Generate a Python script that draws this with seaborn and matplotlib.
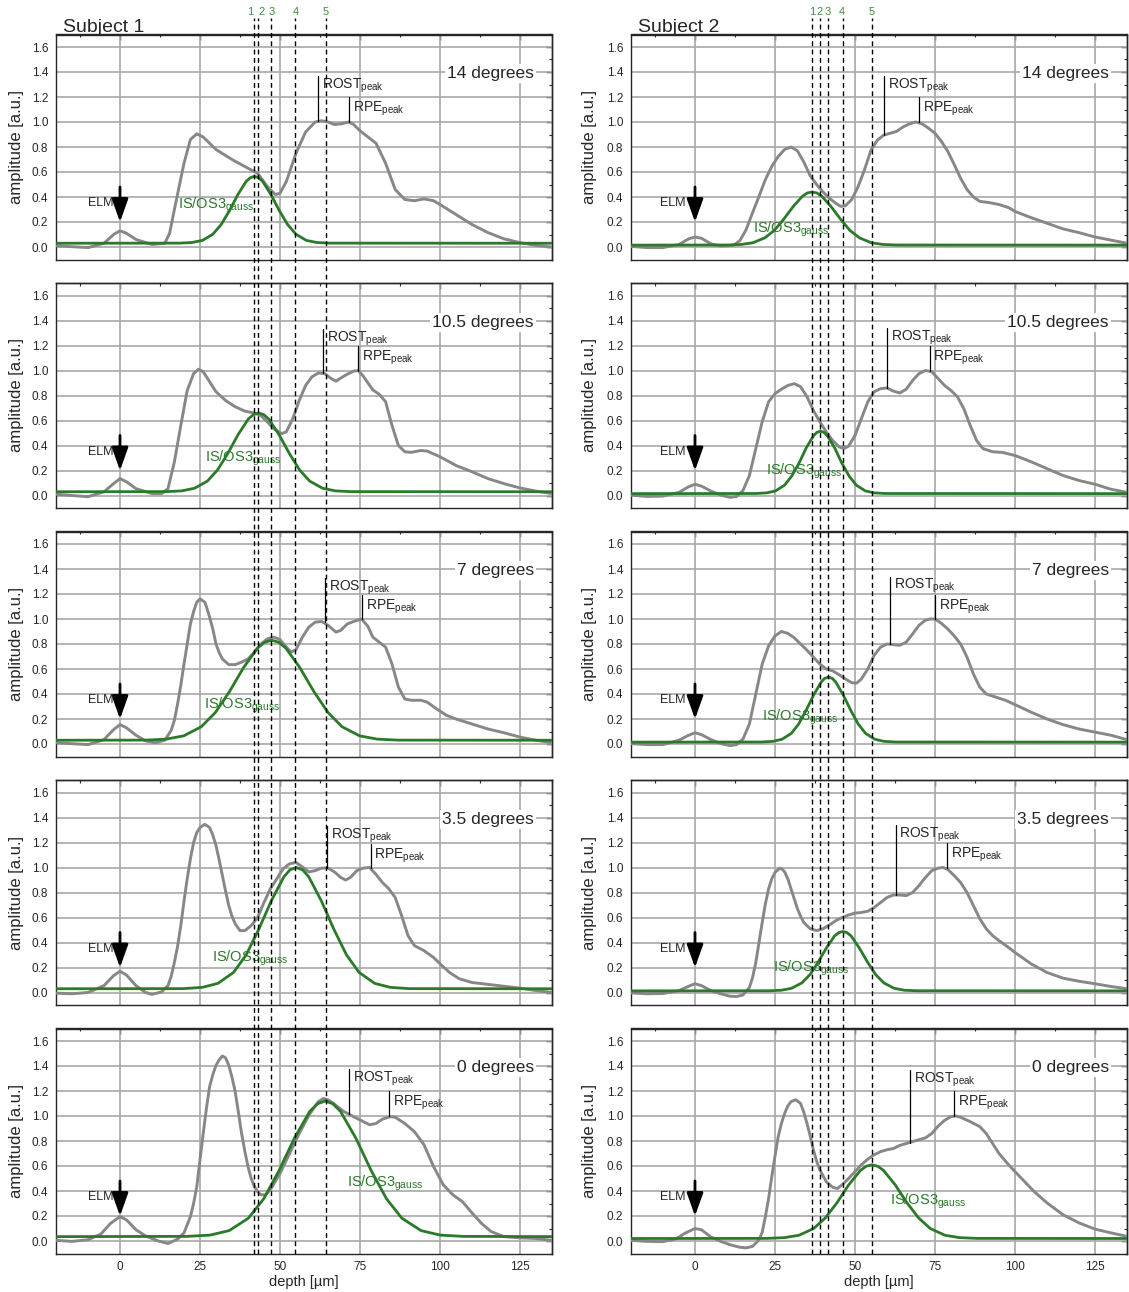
import matplotlib
matplotlib.use("Agg")
import matplotlib.pyplot as plt
import seaborn as sns
from matplotlib.ticker import MultipleLocator, FormatStrFormatter

# ---------------- data ----------------
angles = ["14 degrees", "10.5 degrees", "7 degrees", "3.5 degrees", "0 degrees"]
subjects = ["Subject 1", "Subject 2"]

# Subject 1 profiles (depth [um], amplitude)
subj1_14_x = [-20, -10, -5, -2, 0, 2, 5, 10, 14, 15.5, 17, 20, 22, 24, 26, 30, 35, 40, 43, 46, 48.5, 50, 52, 55, 58, 61, 63, 65, 67, 69, 71.5, 73, 75, 78, 80, 83, 86, 89, 92, 95, 98, 100, 105, 110, 115, 120, 125, 130, 135]
subj1_14_y = [0.01, -0.005, 0.03, 0.10, 0.13, 0.11, 0.06, 0.02, 0.03, 0.11, 0.30, 0.67, 0.86, 0.905, 0.88, 0.78, 0.70, 0.63, 0.59, 0.485, 0.42, 0.43, 0.525, 0.75, 0.92, 1.0, 1.01, 1.0, 0.98, 0.985, 1.0, 0.98, 0.93, 0.87, 0.83, 0.67, 0.46, 0.38, 0.37, 0.385, 0.37, 0.34, 0.26, 0.18, 0.115, 0.065, 0.035, 0.013, 0.0]
subj1_14_gx = [-20, 18.6, 22.5, 25.8, 29.0, 31.6, 34.2, 36.8, 39.4, 40.7, 42.0, 43.3, 44.6, 47.2, 49.8, 52.4, 55.0, 58.2, 61.5, 65.4, 135]
subj1_14_gy = [0.03, 0.031, 0.036, 0.053, 0.102, 0.179, 0.290, 0.418, 0.524, 0.554, 0.565, 0.554, 0.524, 0.418, 0.290, 0.179, 0.102, 0.053, 0.036, 0.031, 0.03]

subj1_105_x = [-20, -10, -5, -2, 0, 2, 5, 10, 13, 15, 17, 19, 21, 23, 24.5, 26, 28, 30, 33, 36, 39, 42, 44, 46, 48, 50.5, 52, 54, 56, 58, 60, 62, 64, 66, 67.5, 69, 71, 73, 74.5, 76, 77.5, 79, 81, 83, 85, 87, 89, 91, 94, 96, 100, 105, 110, 115, 120, 125, 130, 135]
subj1_105_y = [0.01, -0.01, 0.03, 0.095, 0.135, 0.11, 0.055, 0.015, 0.015, 0.055, 0.27, 0.56, 0.84, 0.975, 1.01, 0.99, 0.91, 0.83, 0.76, 0.71, 0.675, 0.66, 0.64, 0.59, 0.535, 0.495, 0.51, 0.615, 0.76, 0.88, 0.95, 0.98, 0.975, 0.935, 0.915, 0.94, 0.97, 0.995, 1.0, 0.955, 0.9, 0.845, 0.81, 0.75, 0.56, 0.40, 0.35, 0.345, 0.36, 0.355, 0.31, 0.24, 0.19, 0.135, 0.095, 0.06, 0.035, 0.015]
subj1_105_gx = [-20, 14.5, 19.3, 23.3, 27.3, 30.5, 33.7, 36.9, 40.1, 41.7, 43.3, 44.9, 46.5, 49.7, 52.9, 56.1, 59.3, 63.3, 67.3, 72.1, 135]
subj1_105_gy = [0.03, 0.031, 0.037, 0.058, 0.115, 0.205, 0.337, 0.487, 0.612, 0.647, 0.66, 0.647, 0.612, 0.487, 0.337, 0.205, 0.115, 0.058, 0.037, 0.031, 0.03]

subj1_7_x = [-20, -10, -5, -2, 0, 2, 5, 8, 11, 14, 16, 17, 18, 19, 20, 21, 22, 23, 24, 25, 26.5, 27, 28, 29, 30, 31, 32, 34, 36, 38, 40, 42, 44, 46, 48, 50, 52, 53.5, 55, 57, 59, 61, 63, 65, 67.5, 69, 71, 73, 75.5, 77.5, 79, 81, 83, 85, 87, 89, 91, 94, 96, 99, 102, 105, 110, 115, 120, 125, 130, 135]
subj1_7_y = [0.01, -0.005, 0.035, 0.115, 0.155, 0.13, 0.07, 0.025, 0.01, 0.03, 0.11, 0.19, 0.32, 0.47, 0.64, 0.80, 0.96, 1.06, 1.135, 1.16, 1.135, 1.10, 1.015, 0.92, 0.80, 0.73, 0.68, 0.635, 0.635, 0.655, 0.68, 0.735, 0.80, 0.84, 0.855, 0.835, 0.775, 0.735, 0.755, 0.855, 0.935, 0.975, 0.98, 0.95, 0.895, 0.91, 0.96, 0.98, 1.0, 0.94, 0.855, 0.815, 0.775, 0.64, 0.455, 0.36, 0.35, 0.35, 0.335, 0.28, 0.23, 0.20, 0.16, 0.12, 0.09, 0.055, 0.03, 0.01]
subj1_7_gx = [-20, 7.8, 14.4, 19.9, 25.4, 29.8, 34.2, 38.6, 43.0, 45.2, 47.4, 49.6, 51.8, 56.2, 60.6, 65.0, 69.4, 74.9, 80.4, 87.0, 135]
subj1_7_gy = [0.03, 0.031, 0.039, 0.065, 0.138, 0.252, 0.419, 0.611, 0.768, 0.814, 0.83, 0.814, 0.768, 0.611, 0.419, 0.252, 0.138, 0.065, 0.039, 0.031, 0.03]

subj1_35_x = [-20, -15, -10, -5, -2, 0, 2, 5, 8, 10, 13, 15, 16, 17, 18, 19, 20, 21, 22, 23, 24, 25, 26.5, 28, 29, 30, 31, 32, 33, 34, 35, 36, 37.5, 39, 41, 43, 45, 47, 49, 51, 53, 55, 57, 59, 61, 63, 65, 67, 69, 70.5, 72, 74, 76, 78, 80, 82, 84, 86, 88, 90, 92, 95, 98, 100, 103, 106, 110, 115, 120, 125, 130, 135]
subj1_35_y = [-0.005, -0.01, 0.0, 0.055, 0.135, 0.17, 0.14, 0.055, 0.0, -0.015, 0.005, 0.055, 0.13, 0.24, 0.37, 0.535, 0.73, 0.91, 1.07, 1.20, 1.28, 1.32, 1.345, 1.32, 1.26, 1.175, 1.06, 0.935, 0.81, 0.695, 0.61, 0.55, 0.495, 0.495, 0.535, 0.60, 0.72, 0.83, 0.91, 0.99, 1.03, 1.04, 1.005, 0.965, 0.975, 0.995, 0.995, 0.965, 0.92, 0.90, 0.92, 0.975, 0.995, 1.0, 0.945, 0.88, 0.83, 0.76, 0.615, 0.455, 0.375, 0.335, 0.28, 0.23, 0.16, 0.11, 0.08, 0.065, 0.05, 0.035, 0.015, 0.0]
subj1_35_gx = [-20, 19.8, 25.7, 30.6, 35.5, 39.4, 43.3, 47.3, 51.2, 53.1, 55.1, 57.1, 59.0, 62.9, 66.9, 70.8, 74.7, 79.6, 84.5, 90.4, 135]
subj1_35_gy = [0.03, 0.031, 0.041, 0.073, 0.161, 0.300, 0.502, 0.734, 0.925, 0.981, 1.0, 0.981, 0.925, 0.734, 0.502, 0.300, 0.161, 0.073, 0.041, 0.031, 0.03]

subj1_0_x = [-20, -15, -10, -6, -3, 0, 2, 5, 8, 12, 15, 18, 20, 22, 23, 24, 25, 26, 27, 28, 29, 30, 31, 32, 33, 34, 35, 36, 37, 38, 39, 40, 41, 42, 43, 44, 45.5, 47, 50, 53, 56, 59, 62, 63.5, 65, 67, 70, 73, 76, 78, 80, 82, 84.5, 86, 89, 92, 95, 98, 101, 104, 107, 110, 113, 116, 120, 125, 130, 135]
subj1_0_y = [0.005, -0.003, 0.01, 0.055, 0.14, 0.195, 0.17, 0.09, 0.04, 0.0, -0.02, 0.015, 0.065, 0.195, 0.30, 0.435, 0.65, 0.86, 1.06, 1.235, 1.33, 1.405, 1.45, 1.48, 1.465, 1.405, 1.31, 1.195, 1.03, 0.86, 0.72, 0.595, 0.50, 0.435, 0.395, 0.37, 0.37, 0.41, 0.54, 0.70, 0.86, 1.005, 1.115, 1.14, 1.13, 1.095, 1.035, 0.995, 0.955, 0.93, 0.94, 0.975, 0.995, 0.99, 0.94, 0.875, 0.77, 0.595, 0.45, 0.37, 0.315, 0.225, 0.14, 0.075, 0.035, 0.025, 0.02, 0.005]
subj1_0_gx = [-20, 20.9, 28.1, 34.1, 40.1, 44.9, 49.7, 54.5, 59.3, 61.7, 64.1, 66.5, 68.9, 73.7, 78.5, 83.3, 88.1, 94.1, 100.1, 107.3, 135]
subj1_0_gy = [0.035, 0.037, 0.047, 0.083, 0.182, 0.337, 0.563, 0.823, 1.037, 1.098, 1.12, 1.098, 1.037, 0.823, 0.563, 0.337, 0.182, 0.083, 0.047, 0.037, 0.035]

# Subject 2 profiles
subj2_14_x = [-20, -15, -10, -5, -2, 0, 2, 5, 8, 12, 14, 16, 18, 20, 22, 24, 26, 28, 30, 32, 34, 36, 38, 40, 42, 44, 45.5, 47, 49, 51, 53, 55, 57, 59, 61, 63, 65, 67, 69, 71, 73, 75, 77, 79, 81, 83, 85, 87, 89, 92, 95, 98, 100, 105, 110, 115, 120, 125, 130, 135]
subj2_14_y = [0.005, -0.005, -0.005, 0.02, 0.065, 0.08, 0.07, 0.025, 0.008, 0.013, 0.05, 0.14, 0.275, 0.405, 0.54, 0.645, 0.725, 0.78, 0.80, 0.77, 0.68, 0.57, 0.50, 0.44, 0.39, 0.35, 0.325, 0.33, 0.38, 0.485, 0.62, 0.775, 0.855, 0.895, 0.91, 0.925, 0.96, 0.985, 1.0, 0.985, 0.95, 0.91, 0.845, 0.765, 0.66, 0.55, 0.46, 0.40, 0.365, 0.355, 0.34, 0.315, 0.285, 0.235, 0.19, 0.145, 0.115, 0.08, 0.055, 0.03]
subj2_14_gx = [-20, 10.0, 14.4, 18.1, 21.8, 24.8, 27.7, 30.7, 33.6, 35.1, 36.6, 38.1, 39.6, 42.5, 45.5, 48.4, 51.4, 55.1, 58.8, 63.2, 135]
subj2_14_gy = [0.015, 0.016, 0.020, 0.034, 0.073, 0.133, 0.222, 0.324, 0.407, 0.432, 0.44, 0.432, 0.407, 0.324, 0.222, 0.133, 0.073, 0.034, 0.020, 0.016, 0.015]

subj2_105_x = [-20, -15, -10, -5, -2, 0, 2, 5, 8, 11, 13, 15, 17, 19, 21, 23, 25, 27, 29, 31, 33, 35, 37, 39, 41, 43, 45, 46.5, 48, 50, 52, 54, 56, 58, 60, 62, 64, 66, 68, 70, 72, 74, 76, 78, 80, 82, 84, 86, 88, 90, 93, 96, 100, 105, 110, 115, 120, 125, 130, 135]
subj2_105_y = [0.003, -0.008, -0.005, 0.025, 0.07, 0.09, 0.075, 0.035, 0.003, -0.015, -0.008, 0.04, 0.16, 0.375, 0.59, 0.75, 0.815, 0.85, 0.88, 0.895, 0.87, 0.79, 0.68, 0.59, 0.51, 0.44, 0.39, 0.375, 0.395, 0.48, 0.615, 0.75, 0.83, 0.855, 0.86, 0.835, 0.82, 0.85, 0.92, 0.975, 1.0, 0.99, 0.935, 0.88, 0.84, 0.79, 0.695, 0.56, 0.44, 0.375, 0.35, 0.345, 0.32, 0.27, 0.215, 0.16, 0.12, 0.09, 0.05, 0.025]
subj2_105_gx = [-20, 19.0, 22.4, 25.2, 28.0, 30.2, 32.5, 34.7, 37.0, 38.1, 39.2, 40.3, 41.4, 43.7, 45.9, 48.2, 50.4, 53.2, 56.0, 59.4, 135]
subj2_105_gy = [0.015, 0.016, 0.021, 0.037, 0.083, 0.154, 0.258, 0.378, 0.477, 0.505, 0.515, 0.505, 0.477, 0.378, 0.258, 0.154, 0.083, 0.037, 0.021, 0.016, 0.015]

subj2_7_x = [-20, -15, -10, -5, -2, 0, 2, 5, 8, 11, 13, 15, 17, 19, 21, 23, 25, 27, 29, 31, 33, 35, 37, 39, 41, 43, 45, 47, 49, 50.5, 52, 54, 56, 58, 60, 62, 64, 66, 68, 70, 72, 73.5, 75, 77, 79, 81, 83, 85, 87, 89, 91, 94, 97, 100, 105, 110, 115, 120, 125, 130, 135]
subj2_7_y = [0.003, -0.005, -0.005, 0.03, 0.07, 0.09, 0.075, 0.035, 0.003, -0.013, -0.005, 0.04, 0.16, 0.40, 0.64, 0.785, 0.865, 0.90, 0.885, 0.85, 0.80, 0.75, 0.695, 0.64, 0.60, 0.585, 0.555, 0.52, 0.49, 0.487, 0.52, 0.60, 0.71, 0.775, 0.80, 0.795, 0.79, 0.815, 0.88, 0.95, 0.99, 1.0, 1.0, 0.965, 0.92, 0.865, 0.80, 0.695, 0.56, 0.455, 0.40, 0.375, 0.35, 0.315, 0.255, 0.20, 0.155, 0.12, 0.095, 0.07, 0.035]
subj2_7_gx = [-20, 20.8, 24.3, 27.2, 30.1, 32.4, 34.7, 37.1, 39.4, 40.5, 41.7, 42.9, 44.0, 46.3, 48.7, 51.0, 53.3, 56.2, 59.1, 62.6, 135]
subj2_7_gy = [0.015, 0.016, 0.021, 0.038, 0.085, 0.160, 0.268, 0.393, 0.495, 0.525, 0.535, 0.525, 0.495, 0.393, 0.268, 0.160, 0.085, 0.038, 0.021, 0.016, 0.015]

subj2_35_x = [-20, -15, -10, -5, -2, 0, 2, 5, 8, 11, 13, 15, 17, 18, 19, 20, 21, 22, 23, 24, 25, 26.5, 27.3, 28, 29, 30, 31, 32, 33, 34, 36, 38, 40, 42, 44, 46, 48, 50, 52, 54, 56, 58, 60, 62, 64, 66, 68, 70, 72, 74, 76, 77.5, 79, 81, 83, 85, 87, 89, 91, 93, 95, 98, 100, 105, 110, 115, 120, 125, 130, 135]
subj2_35_y = [-0.003, -0.01, -0.008, 0.015, 0.05, 0.07, 0.055, 0.015, -0.01, -0.03, -0.032, -0.02, 0.04, 0.12, 0.24, 0.40, 0.56, 0.71, 0.83, 0.91, 0.96, 0.995, 0.985, 0.965, 0.91, 0.83, 0.75, 0.67, 0.61, 0.56, 0.51, 0.495, 0.51, 0.54, 0.575, 0.60, 0.62, 0.635, 0.64, 0.65, 0.68, 0.72, 0.76, 0.78, 0.78, 0.775, 0.80, 0.855, 0.92, 0.975, 0.995, 1.0, 0.985, 0.935, 0.88, 0.80, 0.695, 0.59, 0.51, 0.455, 0.415, 0.36, 0.32, 0.23, 0.16, 0.115, 0.09, 0.07, 0.048, 0.03]
subj2_35_gx = [-20, 23.2, 27.0, 30.2, 33.4, 36.0, 38.5, 41.1, 43.6, 44.9, 46.2, 47.5, 48.8, 51.3, 53.9, 56.4, 59.0, 62.2, 65.4, 69.2, 135]
subj2_35_gy = [0.013, 0.014, 0.018, 0.034, 0.077, 0.145, 0.244, 0.358, 0.452, 0.479, 0.488, 0.479, 0.452, 0.358, 0.244, 0.145, 0.077, 0.034, 0.018, 0.014, 0.013]

subj2_0_x = [-20, -15, -10, -6, -3, 0, 2, 5, 8, 11, 14, 16, 18, 20, 21, 22, 23, 24, 25, 26, 27, 28, 29, 30, 31.5, 33, 34, 35, 36, 37, 38, 39, 41, 43, 44.5, 46, 48, 50, 52, 54, 56, 58, 60, 62, 64, 66, 68, 70, 72, 74, 76, 78, 80, 81.5, 83, 86, 89, 91, 93, 95, 98, 100, 103, 106, 110, 115, 120, 125, 130, 135]
subj2_0_y = [0.005, -0.003, -0.005, 0.016, 0.064, 0.10, 0.09, 0.032, -0.003, -0.03, -0.05, -0.055, -0.043, 0.01, 0.07, 0.195, 0.34, 0.515, 0.68, 0.835, 0.94, 1.02, 1.08, 1.115, 1.13, 1.10, 1.03, 0.94, 0.84, 0.73, 0.64, 0.57, 0.475, 0.43, 0.42, 0.45, 0.50, 0.555, 0.61, 0.655, 0.69, 0.715, 0.73, 0.74, 0.765, 0.78, 0.795, 0.81, 0.825, 0.86, 0.92, 0.965, 0.995, 1.0, 0.99, 0.955, 0.915, 0.86, 0.78, 0.70, 0.61, 0.555, 0.475, 0.395, 0.305, 0.21, 0.145, 0.095, 0.065, 0.037]
subj2_0_gx = [-20, 22.5, 28.0, 32.5, 37.1, 40.7, 44.4, 48.0, 51.7, 53.5, 55.3, 57.1, 58.9, 62.6, 66.2, 69.9, 73.5, 78.1, 82.6, 88.1, 135]
subj2_0_gy = [0.02, 0.021, 0.027, 0.046, 0.100, 0.184, 0.307, 0.448, 0.565, 0.598, 0.61, 0.598, 0.565, 0.448, 0.307, 0.184, 0.100, 0.046, 0.027, 0.021, 0.02]

# peak markers (x, curve value, top of marker line)
subj1_rost_x = [62.0, 63.5, 64.0, 64.8, 71.5]
subj1_rost_y = [1.01, 0.98, 0.98, 0.995, 1.02]
subj1_rost_top = [1.366, 1.33, 1.325, 1.335, 1.375]
subj1_rpe_x = [71.5, 74.5, 75.7, 78.3, 84.2]
subj1_rpe_y = [1.0, 1.0, 1.0, 1.0, 1.0]
subj1_rpe_top = [1.197, 1.195, 1.19, 1.19, 1.2]
subj2_rost_x = [59.1, 59.9, 60.9, 62.7, 67.3]
subj2_rost_y = [0.895, 0.86, 0.80, 0.78, 0.787]
subj2_rost_top = [1.366, 1.34, 1.34, 1.34, 1.366]
subj2_rpe_x = [70.0, 73.3, 75.0, 78.7, 81.0]
subj2_rpe_y = [1.0, 1.0, 1.0, 1.0, 1.0]
subj2_rpe_top = [1.197, 1.195, 1.19, 1.195, 1.2]

# IS/OS3 gauss label anchors
subj1_glabel_x = [18.2, 26.6, 26.3, 28.9, 70.8]
subj1_glabel_y = [0.33, 0.30, 0.31, 0.27, 0.46]
subj2_glabel_x = [18.0, 22.2, 20.9, 24.3, 61.0]
subj2_glabel_y = [0.14, 0.19, 0.215, 0.19, 0.315]

# numbered reference depths (dashed lines)
line_numbers = ["1", "2", "3", "4", "5"]
subj1_dash_x = [41.8, 43.1, 47.2, 54.8, 64.3]
subj1_num_x = [40.6, 44.3, 47.4, 54.9, 64.4]
subj2_dash_x = [36.7, 39.2, 41.7, 46.1, 55.3]
subj2_num_x = [36.5, 38.8, 41.6, 46.0, 55.3]

elm_text_x = [-2.0, -3.0]

# ---------------- assemble ----------------
profiles = [
    [(subj1_14_x, subj1_14_y, subj1_14_gx, subj1_14_gy),
     (subj1_105_x, subj1_105_y, subj1_105_gx, subj1_105_gy),
     (subj1_7_x, subj1_7_y, subj1_7_gx, subj1_7_gy),
     (subj1_35_x, subj1_35_y, subj1_35_gx, subj1_35_gy),
     (subj1_0_x, subj1_0_y, subj1_0_gx, subj1_0_gy)],
    [(subj2_14_x, subj2_14_y, subj2_14_gx, subj2_14_gy),
     (subj2_105_x, subj2_105_y, subj2_105_gx, subj2_105_gy),
     (subj2_7_x, subj2_7_y, subj2_7_gx, subj2_7_gy),
     (subj2_35_x, subj2_35_y, subj2_35_gx, subj2_35_gy),
     (subj2_0_x, subj2_0_y, subj2_0_gx, subj2_0_gy)],
]
rost = [(subj1_rost_x, subj1_rost_y, subj1_rost_top), (subj2_rost_x, subj2_rost_y, subj2_rost_top)]
rpe = [(subj1_rpe_x, subj1_rpe_y, subj1_rpe_top), (subj2_rpe_x, subj2_rpe_y, subj2_rpe_top)]
glabels = [(subj1_glabel_x, subj1_glabel_y), (subj2_glabel_x, subj2_glabel_y)]
dashes = [(subj1_dash_x, subj1_num_x), (subj2_dash_x, subj2_num_x)]

# ---------------- style ----------------
sns.set_style("white")
plt.rcParams["font.family"] = ["Liberation Sans", "DejaVu Sans"]
plt.rcParams["mathtext.fontset"] = "custom"
plt.rcParams["mathtext.rm"] = "Liberation Sans"
plt.rcParams["mathtext.it"] = "Liberation Sans:italic"
plt.rcParams["mathtext.bf"] = "Liberation Sans:bold"

GRAY = "#878787"
GREEN = "#2a7a2a"
NUMGREEN = "#3d8f3d"
GRID = "#a8a8a8"
SPINE = "#262626"

W, H = 1129, 1292
fig = plt.figure(figsize=(W / 100, H / 100), dpi=100)

col_left = [56, 631]
col_w = 496
row_top = [34.5, 283, 531.5, 780, 1028.5]
row_h = 225
XLIM = (-20, 135)
YLIM = (-0.1, 1.7)


def rect(l, t, w, h):
    return [l / W, 1 - (t + h) / H, w / W, h / H]


for c in range(2):
    for r in range(5):
        gx_, gy_, fx_, fy_ = profiles[c][r]
        ax = fig.add_axes(rect(col_left[c], row_top[r], col_w, row_h))
        sns.lineplot(x=gx_, y=gy_, ax=ax, color=GRAY, lw=2.1, estimator=None, zorder=3)
        sns.lineplot(x=fx_, y=fy_, ax=ax, color=GREEN, lw=2.0, estimator=None, zorder=4)
        ax.set_xlim(*XLIM)
        ax.set_ylim(*YLIM)
        ax.xaxis.set_major_locator(MultipleLocator(25))
        ax.xaxis.set_minor_locator(MultipleLocator(12.5))
        ax.yaxis.set_major_locator(MultipleLocator(0.2))
        ax.yaxis.set_minor_locator(MultipleLocator(0.1))
        ax.yaxis.set_major_formatter(FormatStrFormatter("%.1f"))
        ax.grid(True, which="major", color=GRID, lw=1.2)
        ax.set_axisbelow(True)
        for sp in ax.spines.values():
            sp.set_color(SPINE)
            sp.set_linewidth(1.0)
        ax.tick_params(which="major", direction="out", length=3.5, width=1.0,
                       color=SPINE, labelsize=8.5, pad=2)
        ax.tick_params(which="minor", direction="in", length=2.5, width=0.8, color=SPINE)
        # top / right inward ticks
        sx = ax.secondary_xaxis("top")
        sx.xaxis.set_major_locator(MultipleLocator(25))
        sx.xaxis.set_minor_locator(MultipleLocator(12.5))
        sx.tick_params(which="major", direction="in", length=4, width=1.0, color=SPINE, labeltop=False)
        sx.tick_params(which="minor", direction="in", length=2.5, width=0.8, color=SPINE)
        sx.spines["top"].set_color(SPINE)
        sx.spines["top"].set_linewidth(1.0)
        sy = ax.secondary_yaxis("right")
        sy.yaxis.set_major_locator(MultipleLocator(0.2))
        sy.yaxis.set_minor_locator(MultipleLocator(0.1))
        sy.tick_params(which="major", direction="in", length=4, width=1.0, color=SPINE, labelright=False)
        sy.tick_params(which="minor", direction="in", length=2.5, width=0.8, color=SPINE)
        sy.spines["right"].set_color(SPINE)
        sy.spines["right"].set_linewidth(1.0)

        ax.set_ylabel("amplitude [a.u.]", fontsize=12)
        ax.yaxis.set_label_coords(-0.064 if c == 0 else -0.068, 0.5)
        if r < 4:
            ax.tick_params(labelbottom=False)
            ax.set_xlabel("")
        else:
            ax.set_xlabel("depth [µm]", fontsize=10.5, labelpad=1)

        # angle label
        ax.text(129.3, 1.385, angles[r], ha="right", va="center", fontsize=12.5,
                bbox=dict(facecolor="white", edgecolor="none", pad=1.5), zorder=5)

        # ELM arrow
        ax.annotate("", xy=(0, 0.2), xytext=(0, 0.48),
                    arrowprops=dict(arrowstyle="-|>,head_length=1.4,head_width=0.5",
                                    color="black", lw=2.0, shrinkA=0, shrinkB=0,
                                    mutation_scale=10), zorder=6)
        ax.text(elm_text_x[c], 0.35, "ELM", ha="right", va="center", fontsize=9, zorder=6)

        # ROST / RPE peak markers
        rx, ry, rt = rost[c]
        ax.plot([rx[r], rx[r]], [ry[r], rt[r]], color="black", lw=0.9, zorder=5)
        ax.text(rx[r] + 1.2, rt[r] - 0.005, r"ROST$_{\mathregular{peak}}$", ha="left", va="top",
                fontsize=10, zorder=6)
        px_, py_, pt_ = rpe[c]
        ax.plot([px_[r], px_[r]], [py_[r], pt_[r]], color="black", lw=0.9, zorder=5)
        ax.text(px_[r] + 1.2, pt_[r] - 0.02, r"RPE$_{\mathregular{peak}}$", ha="left", va="top",
                fontsize=10, zorder=6)

        # gauss label
        lx, ly = glabels[c]
        ax.text(lx[r], ly[r], r"IS/OS3$_{\mathregular{gauss}}$", color=GREEN, ha="left",
                va="center", fontsize=10.5, zorder=6)

    # dashed reference lines spanning the column
    top_px, bot_px = 18, row_top[-1] + row_h
    ov = fig.add_axes(rect(col_left[c], top_px, col_w, bot_px - top_px))
    ov.set_xlim(*XLIM)
    ov.set_ylim(0, 1)
    ov.axis("off")
    ov.set_zorder(20)
    dx, nx = dashes[c]
    ov.vlines(dx, 0, 1, colors="black", linestyles=(0, (3.5, 2.5)), lw=1.0)
    for lab, xx in zip(line_numbers, nx):
        ov.text(xx, 1 + 6 / (bot_px - top_px), lab, transform=ov.get_xaxis_transform(),
                ha="center", va="center", fontsize=8, color=NUMGREEN, clip_on=False)

    fig.text((col_left[c] + 7) / W, 1 - 32 / H, subjects[c], fontsize=14,
             ha="left", va="baseline")

fig.savefig("out.png", dpi=100)
